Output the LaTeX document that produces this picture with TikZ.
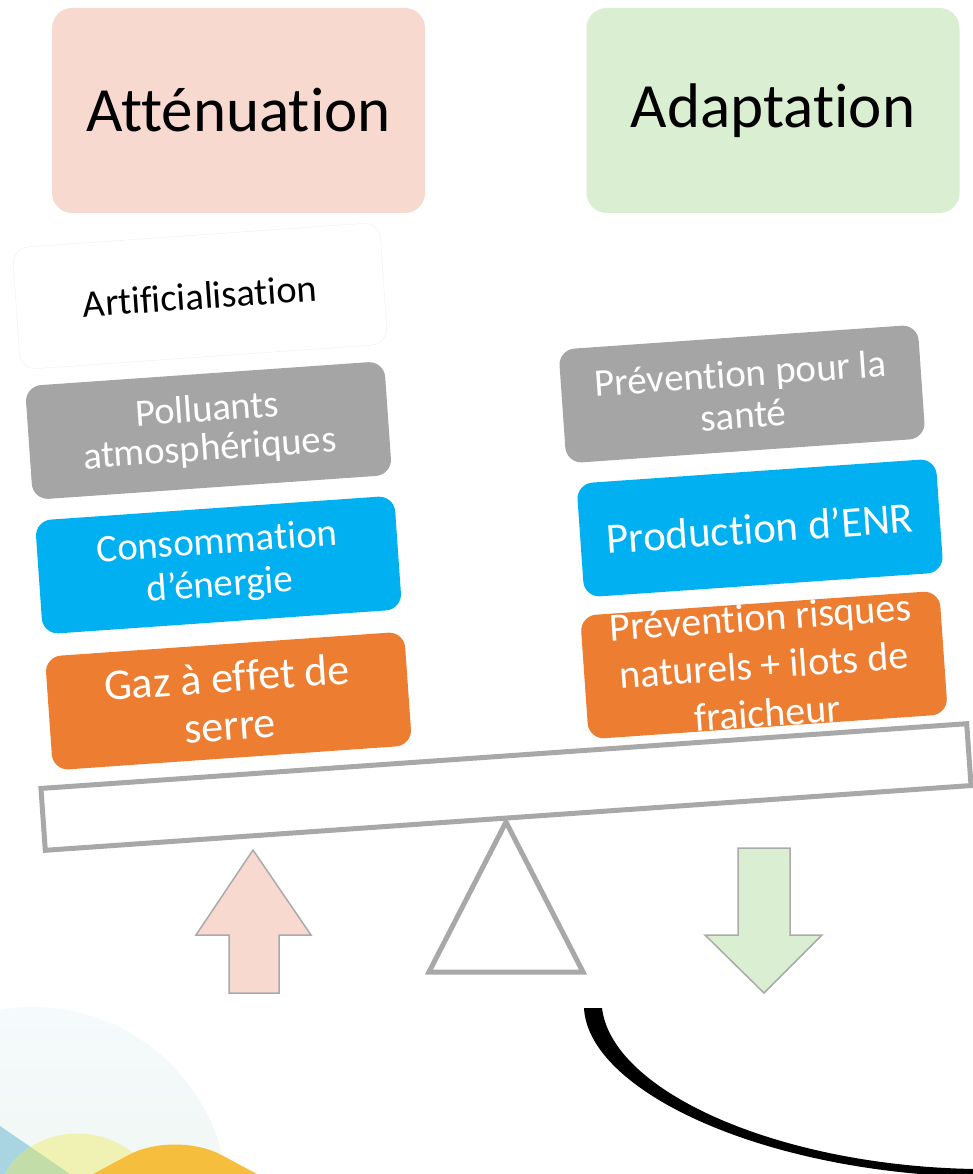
\documentclass[tikz,border=0pt]{standalone}
\usepackage{fontspec}
\setmainfont{Carlito}[RawFeature={-liga;-rlig;-calt;-clig;-dlig}]
\usetikzlibrary{calc}
\newcommand\tI{t\kern0pt i}
\newcommand\fI{f\kern0pt i}
\newcommand\fF{f\kern0pt f}
\definecolor{pinkbox}{HTML}{F8D9D0}
\definecolor{greenbox}{HTML}{DAEFD2}
\definecolor{graybox}{HTML}{A5A5A5}
\definecolor{bluebox}{HTML}{00B0F0}
\definecolor{orangebox}{HTML}{ED7D31}
\definecolor{beamgray}{HTML}{A8A8A8}
\definecolor{arrowedge}{HTML}{AAAAAA}
\definecolor{decoblue}{HTML}{A9D5E2}
\definecolor{decoyellow}{HTML}{F0F2B4}
\definecolor{decogreen}{HTML}{C3DDA9}
\definecolor{decoorange}{HTML}{F5BE3C}
\definecolor{decotop}{HTML}{F5FAFC}
\definecolor{decobot}{HTML}{EBF4E8}
\tikzset{
  headbox/.style={rounded corners=20pt, minimum width=373pt, minimum height=205pt, inner sep=0pt, font=\fontsize{63}{70}\selectfont, text=black},
  stackbox/.style={rounded corners=16pt, minimum width=360pt, minimum height=114pt, inner sep=0pt, align=center, rotate=4, text=white, font=\fontsize{39}{39}\selectfont},
  beamline/.style={draw=beamgray, line width=5pt, fill=white},
  bigarrow/.style={draw=arrowedge, line width=1.5pt},
}
\begin{document}
\begin{tikzpicture}[x=1pt,y=-1pt]
\useasboundingbox (0,0) rectangle (973,1174);
% bottom-left decoration
\begin{scope}
\clip (0,0) rectangle (973,1174);
\shade[top color=decotop, bottom color=decobot] (33,1202) circle (195);
\fill[decoblue] (0,1126) -- (70,1174) -- (0,1174) -- cycle;
\fill[decoyellow] (5,1174) .. controls (35,1120) and (120,1120) .. (150,1174) -- cycle;
\begin{scope}
\clip (0,1126) -- (70,1174) -- (0,1174) -- cycle;
\fill[decogreen] (5,1174) .. controls (35,1120) and (120,1120) .. (150,1174) -- cycle;
\end{scope}
\draw[decoorange, line width=30pt, rounded corners=45pt] (30,1225) -- (175,1147) -- (320,1225);
\end{scope}
% header boxes
\node[headbox, fill=pinkbox] (att) at (238.5,110.5) {Atténua\tI{}on};
\node[headbox, fill=greenbox] (adp) at (773,110.5) {Adapta\tI{}on};
% left stack
\node[stackbox, minimum width=368pt, minimum height=122pt, fill=white, draw=black!6, text=black, font=\fontsize{38.5}{40}\selectfont] (art) at (200,296) {Ar\tI{}\fI{}cialisa\tI{}on};
\node[stackbox, fill=graybox, font=\fontsize{38.5}{39}\selectfont] (pol) at (208.5,430.5) {Polluants\\atmosphériques};
\node[stackbox, fill=bluebox, font=\fontsize{39}{43}\selectfont] (con) at (218.5,565) {Consomma\tI{}on\\d’énergie};
\node[stackbox, fill=orangebox, font=\fontsize{44}{48}\selectfont] (gaz) at (228.5,701) {Gaz à e\fF{}et de\\serre};
% right stack
\node[stackbox, fill=graybox, font=\fontsize{39}{42}\selectfont] (san) at (742,394) {Préven\tI{}on pour la\\santé};
\node[stackbox, fill=bluebox, font=\fontsize{43}{44}\selectfont] (enr) at (760,528) {Produc\tI{}on d’ENR};
\node[stackbox, fill=orangebox, font=\fontsize{40}{48}\selectfont] (ris) at (764,665) {Préven\tI{}on risques\\naturels + ilots de\\fraicheur};
% beam and fulcrum
\node[beamline, rotate=4, minimum width=928pt, minimum height=62pt, inner sep=0pt] (beam) at (506,787) {};
\draw[beamline, line join=miter] (506,822) -- (583,972) -- (429,972) -- cycle;
% arrows
\draw[bigarrow, fill=pinkbox] (253,850) -- (311,935) -- (279,935) -- (279,993) -- (229,993) -- (229,935) -- (196,935) -- cycle;
\draw[bigarrow, fill=greenbox] (738,848) -- (790,848) -- (790,935) -- (822,935) -- (764,993) -- (705,935) -- (738,935) -- cycle;
% black arc
\fill[black] (584,1008) .. controls (588,1090) and (760,1172) .. (975,1177)
  -- (975,1169) .. controls (780,1166) and (612,1092) .. (602,1008) -- cycle;
\end{tikzpicture}
\end{document}
